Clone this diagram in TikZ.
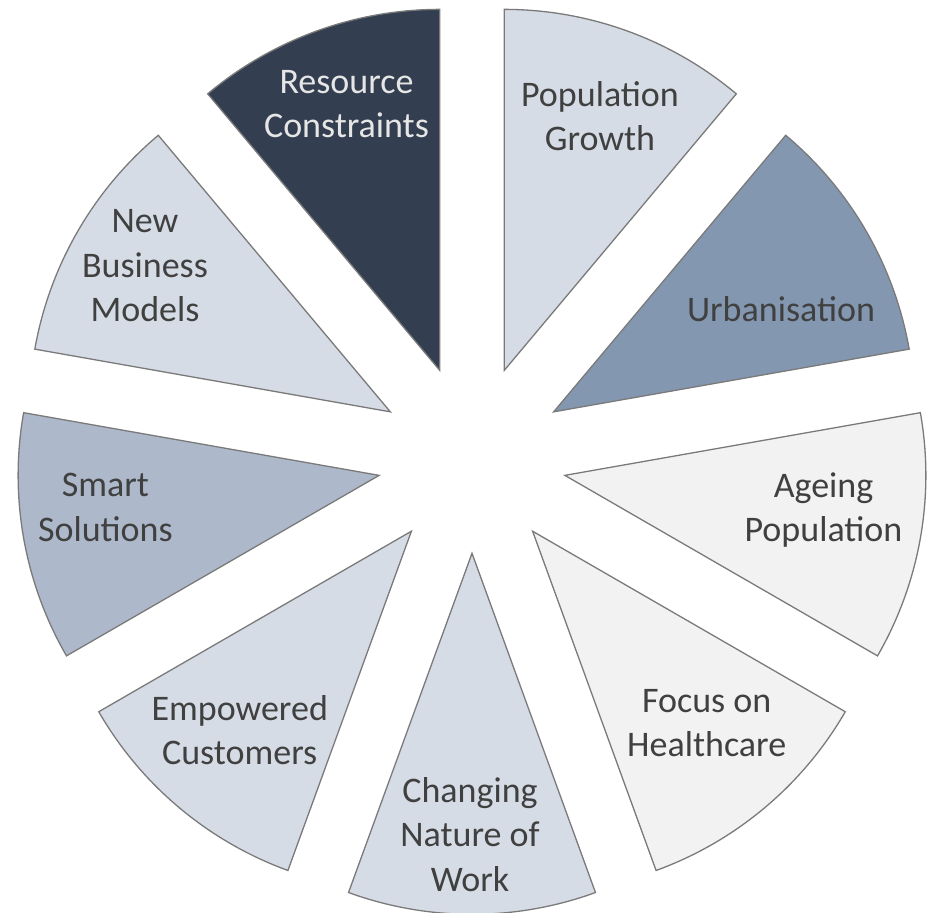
\documentclass[tikz,border=0pt]{standalone}
\usepackage{fontspec}
\setmainfont{Carlito}
\definecolor{navy}{HTML}{333F50}
\definecolor{steelmid}{HTML}{8497B0}
\definecolor{steellight}{HTML}{ADB9CA}
\definecolor{bluepale}{HTML}{D6DCE5}
\definecolor{greypale}{HTML}{F2F2F2}
\definecolor{edgegrey}{HTML}{7A7A7A}
\definecolor{txtgrey}{HTML}{404040}
\definecolor{txtlight}{HTML}{E6E6E6}
\newcommand\lblstrut{\rule{0pt}{30pt}}
\tikzset{
  wedge/.style={draw=edgegrey, line width=1.3pt, line join=miter},
  lbl/.style={anchor=north, inner sep=0pt, align=center, text=txtgrey,
    font=\fontsize{36}{44.5}\selectfont}
}
\begin{document}
\begin{tikzpicture}[x=1pt,y=1pt]
\useasboundingbox (0,0) rectangle (930,913);
\foreach \a/\col in {90/navy, 50/bluepale, 10/steelmid, -30/greypale, -70/greypale, -110/bluepale, -150/bluepale, 170/steellight, 130/bluepale}{
  \draw[wedge, fill=\col, shift={(472,454)}, shift={(\a+20:94.3)}]
    (0,0) -- (\a:361) arc[start angle=\a, end angle=\a+40, radius=361] -- cycle;
}
% labels: positioned at baseline of first line (top-down y) + strut
\node[lbl, text=txtlight] (rc) at (346.5, 913-93.3+30) {\lblstrut Resource\\Constraints};
\node[lbl] (pg) at (600, 913-106+30) {\lblstrut Population\\Growth};
\node[lbl] (ur) at (781, 913-321.7+30) {\lblstrut Urbanisation};
\node[lbl] (ap) at (823.5, 913-497+30) {\lblstrut Ageing\\Population};
\node[lbl] (fh) at (706.7, 913-712.3+30) {\lblstrut Focus on\\Healthcare};
\node[lbl] (cw) at (470, 913-802+30) {\lblstrut Changing\\Nature of\\Work};
\node[lbl] (ec) at (239.7, 913-720+30) {\lblstrut Empowered\\Customers};
\node[lbl] (ss) at (105.4, 913-496.7+30) {\lblstrut Smart\\Solutions};
\node[lbl] (nb) at (145, 913-232.7+30) {\lblstrut New\\Business\\Models};
\end{tikzpicture}
\end{document}
